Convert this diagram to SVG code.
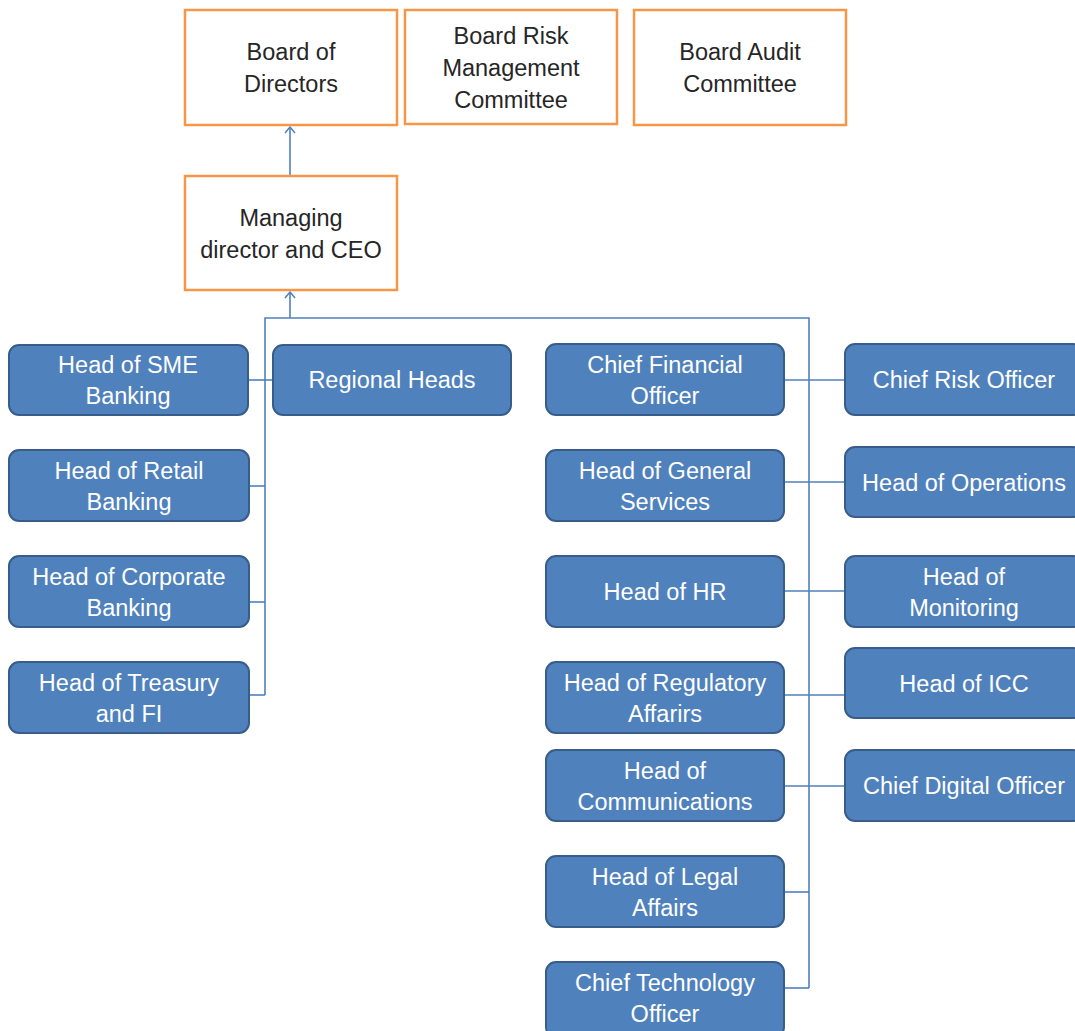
<svg xmlns="http://www.w3.org/2000/svg" width="1075" height="1031" viewBox="0 0 1075 1031">
<defs>
<marker id="arr" viewBox="0 0 12 12" refX="11" refY="6" markerWidth="12" markerHeight="12" markerUnits="userSpaceOnUse" orient="auto">
<path d="M5,1 L11,6 L5,11" fill="none" stroke="#4F81BD" stroke-width="1.5"/>
</marker>
<style>
.board rect{fill:#fff;stroke:#F79646;stroke-width:2.5}
.board text{fill:#262626}
.unit rect{fill:#4F81BD;stroke:#385D8A;stroke-width:2}
.unit text{fill:#fff}
text{font-family:"Liberation Sans",Arial,sans-serif;font-size:23.5px;text-anchor:middle}
.conn{fill:none;stroke:#4F81BD;stroke-width:1.6}
</style>
</defs>
<rect width="1075" height="1031" fill="#fff"/>
<g id="connectors">
<line class="conn" x1="290" y1="176" x2="290" y2="127" marker-end="url(#arr)"/>
<line class="conn" x1="290" y1="318" x2="290" y2="292" marker-end="url(#arr)"/>
<polyline class="conn" points="265,695 265,318 809,318 809,988"/>
<line class="conn" x1="248" y1="380" x2="273" y2="380"/>
<line class="conn" x1="249" y1="486" x2="265" y2="486"/>
<line class="conn" x1="249" y1="602" x2="265" y2="602"/>
<line class="conn" x1="249" y1="695" x2="265" y2="695"/>
<line class="conn" x1="784" y1="380" x2="845" y2="380"/>
<line class="conn" x1="784" y1="482" x2="845" y2="482"/>
<line class="conn" x1="784" y1="591" x2="845" y2="591"/>
<line class="conn" x1="784" y1="695" x2="845" y2="695"/>
<line class="conn" x1="784" y1="786" x2="845" y2="786"/>
<line class="conn" x1="784" y1="892" x2="809" y2="892"/>
<line class="conn" x1="784" y1="988" x2="809" y2="988"/>
</g>
<g id="board-directors" class="board"><rect x="185" y="10" width="212" height="115"/><text x="291" y="60">Board of</text><text x="291" y="92">Directors</text></g>
<g id="board-risk" class="board"><rect x="405" y="10" width="212" height="114"/><text x="511" y="44">Board Risk</text><text x="511" y="76">Management</text><text x="511" y="108">Committee</text></g>
<g id="board-audit" class="board"><rect x="634" y="10" width="212" height="115"/><text x="740" y="60">Board Audit</text><text x="740" y="92">Committee</text></g>
<g id="ceo" class="board"><rect x="185" y="176" width="212" height="114"/><text x="291" y="226">Managing</text><text x="291" y="258">director and CEO</text></g>

<g id="sme" class="unit"><rect x="9" y="345" width="239" height="70" rx="10"/><text x="128" y="373">Head of SME</text><text x="128" y="404">Banking</text></g>
<g id="regional" class="unit"><rect x="273" y="345" width="238" height="70" rx="10"/><text x="392" y="388">Regional Heads</text></g>
<g id="retail" class="unit"><rect x="9" y="450" width="240" height="71" rx="10"/><text x="129" y="479">Head of Retail</text><text x="129" y="510">Banking</text></g>
<g id="corporate" class="unit"><rect x="9" y="556" width="240" height="71" rx="10"/><text x="129" y="585">Head of Corporate</text><text x="129" y="616">Banking</text></g>
<g id="treasury" class="unit"><rect x="9" y="662" width="240" height="71" rx="10"/><text x="129" y="691">Head of Treasury</text><text x="129" y="722">and FI</text></g>

<g id="cfo" class="unit"><rect x="546" y="344" width="238" height="71" rx="10"/><text x="665" y="373">Chief Financial</text><text x="665" y="404">Officer</text></g>
<g id="general" class="unit"><rect x="546" y="450" width="238" height="71" rx="10"/><text x="665" y="479">Head of General</text><text x="665" y="510">Services</text></g>
<g id="hr" class="unit"><rect x="546" y="556" width="238" height="71" rx="10"/><text x="665" y="600">Head of HR</text></g>
<g id="regulatory" class="unit"><rect x="546" y="662" width="238" height="71" rx="10"/><text x="665" y="691">Head of Regulatory</text><text x="665" y="722">Affarirs</text></g>
<g id="communications" class="unit"><rect x="546" y="750" width="238" height="71" rx="10"/><text x="665" y="779">Head of</text><text x="665" y="810">Communications</text></g>
<g id="legal" class="unit"><rect x="546" y="856" width="238" height="71" rx="10"/><text x="665" y="885">Head of Legal</text><text x="665" y="916">Affairs</text></g>
<g id="cto" class="unit"><rect x="546" y="962" width="238" height="75" rx="10"/><text x="665" y="991">Chief Technology</text><text x="665" y="1022">Officer</text></g>

<g id="cro" class="unit"><rect x="845" y="344" width="238" height="71" rx="10"/><text x="964" y="388">Chief Risk Officer</text></g>
<g id="operations" class="unit"><rect x="845" y="447" width="238" height="70" rx="10"/><text x="964" y="491">Head of Operations</text></g>
<g id="monitoring" class="unit"><rect x="845" y="556" width="238" height="71" rx="10"/><text x="964" y="585">Head of</text><text x="964" y="616">Monitoring</text></g>
<g id="icc" class="unit"><rect x="845" y="648" width="238" height="70" rx="10"/><text x="964" y="692">Head of ICC</text></g>
<g id="cdo" class="unit"><rect x="845" y="750" width="238" height="71" rx="10"/><text x="964" y="794">Chief Digital Officer</text></g>
</svg>
